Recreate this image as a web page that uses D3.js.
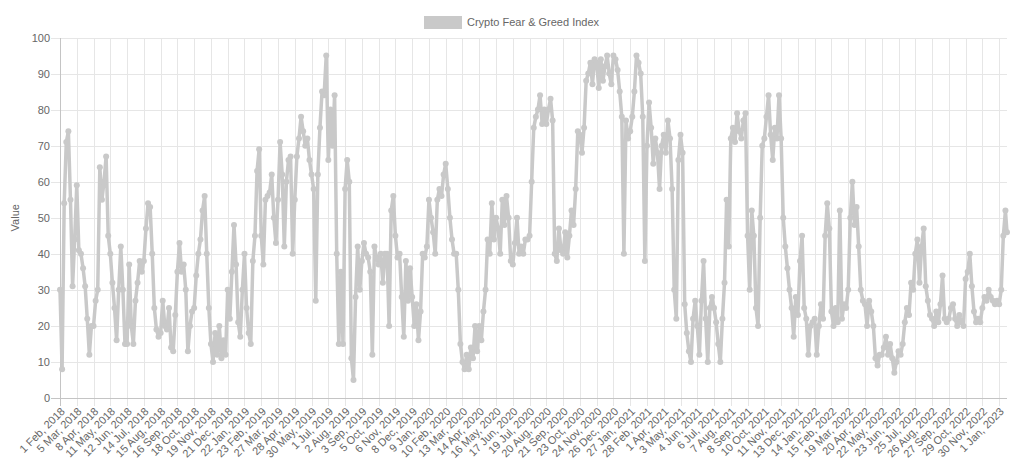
<!DOCTYPE html>
<html>
<head>
<meta charset="utf-8">
<script src="https://cdn.jsdelivr.net/npm/d3@7"></script>
<style>
  html, body { margin: 0; padding: 0; background: #fff; }
  svg { display: block; font-family: "Liberation Sans", Arial, Helvetica, sans-serif; }
</style>
</head>
<body>
<svg id="chart" width="1024" height="468"></svg>
<script>
// ---- data ----
const seriesName = "Crypto Fear & Greed Index";
const yAxisTitle = "Value";
const yTicks = [0, 10, 20, 30, 40, 50, 60, 70, 80, 90, 100];
// category labels shown on the x axis (every 32nd daily category)
const tickLabels = [
  "1 Feb, 2018", "5 Mar, 2018", "8 Apr, 2018", "11 May, 2018", "12 Jun, 2018", "14 Jul, 2018",
  "15 Aug, 2018", "16 Sep, 2018", "18 Oct, 2018", "19 Nov, 2018", "21 Dec, 2018", "22 Jan, 2019",
  "23 Feb, 2019", "27 Mar, 2019", "28 Apr, 2019", "30 May, 2019", "1 Jul, 2019", "2 Aug, 2019",
  "3 Sep, 2019", "5 Oct, 2019", "6 Nov, 2019", "8 Dec, 2019", "9 Jan, 2020", "10 Feb, 2020",
  "13 Mar, 2020", "14 Apr, 2020", "16 May, 2020", "17 Jun, 2020", "19 Jul, 2020", "20 Aug, 2020",
  "21 Sep, 2020", "23 Oct, 2020", "24 Nov, 2020", "26 Dec, 2020", "27 Jan, 2021", "28 Feb, 2021",
  "1 Apr, 2021", "3 May, 2021", "4 Jun, 2021", "6 Jul, 2021", "7 Aug, 2021", "8 Sep, 2021",
  "10 Oct, 2021", "11 Nov, 2021", "13 Dec, 2021", "14 Jan, 2022", "15 Feb, 2022", "19 Mar, 2022",
  "20 Apr, 2022", "22 May, 2022", "23 Jun, 2022", "25 Jul, 2022", "26 Aug, 2022", "27 Sep, 2022",
  "29 Oct, 2022", "30 Nov, 2022", "1 Jan, 2023"
];
const TICK_EVERY = 32;      // categories between shown labels
const LAST_CATEGORY = 1807; // index of the last daily category
const SAMPLE_EVERY = 4;     // readings taken every 4th category
// index values, one per 4 categories (8 per labelled interval)
const fgiValues = [
  30, 8, 54, 71, 74, 55, 31, 44,
  59, 41, 40, 36, 31, 22, 12, 20,
  20, 27, 30, 64, 55, 60, 67, 45,
  40, 32, 25, 16, 30, 42, 30, 15,
  15, 37, 20, 15, 27, 32, 38, 35,
  38, 47, 54, 53, 40, 25, 19, 17,
  18, 27, 20, 19, 25, 14, 13, 23,
  35, 43, 35, 37, 30, 13, 20, 24,
  25, 34, 40, 44, 52, 56, 40, 25,
  15, 10, 18, 12, 20, 11, 16, 12,
  30, 22, 35, 48, 37, 21, 17, 30,
  40, 25, 18, 15, 38, 45, 63, 69,
  45, 37, 55, 56, 57, 62, 50, 43,
  55, 71, 62, 42, 60, 66, 67, 40,
  55, 67, 72, 78, 74, 70, 72, 66,
  62, 58, 27, 62, 75, 85, 84, 95,
  66, 80, 70, 84, 40, 15, 35, 15,
  58, 66, 60, 11, 5, 28, 42, 30,
  38, 43, 40, 39, 35, 12, 42, 39,
  37, 40, 32, 40, 40, 20, 52, 56,
  45, 39, 40, 28, 17, 38, 27, 36,
  28, 20, 26, 16, 24, 40, 39, 42,
  55, 50, 46, 40, 55, 58, 56, 62,
  65, 58, 50, 44, 40, 40, 30, 15,
  10, 8, 12, 8, 14, 11, 20, 13,
  20, 16, 24, 30, 44, 40, 54, 44,
  50, 47, 40, 55, 48, 56, 50, 38,
  37, 43, 50, 40, 42, 40, 44, 44,
  45, 60, 75, 78, 80, 84, 76, 80,
  76, 80, 83, 77, 40, 38, 47, 41,
  40, 46, 39, 45, 52, 48, 58, 74,
  73, 68, 75, 88, 90, 93, 87, 94,
  93, 86, 94, 88, 92, 95, 90, 87,
  95, 94, 91, 85, 78, 40, 77, 72,
  74, 78, 85, 95, 93, 90, 78, 38,
  70, 82, 75, 65, 72, 68, 58, 70,
  73, 68, 77, 72, 58, 30, 22, 66,
  73, 68, 26, 18, 13, 10, 22, 27,
  20, 12, 27, 38, 22, 10, 25, 28,
  25, 21, 15, 10, 22, 32, 55, 42,
  72, 75, 71, 79, 74, 72, 77, 79,
  45, 30, 52, 45, 25, 20, 50, 70,
  72, 78, 84, 73, 66, 75, 72, 84,
  72, 50, 42, 36, 30, 25, 17, 28,
  23, 38, 45, 25, 22, 12, 20, 21,
  22, 12, 20, 26, 22, 45, 54, 47,
  24, 20, 25, 21, 52, 22, 26, 25,
  30, 50, 60, 48, 53, 42, 30, 27,
  26, 20, 27, 24, 20, 11, 9, 12,
  12, 14, 17, 12, 15, 11, 7, 10,
  13, 12, 15, 21, 25, 23, 32, 30,
  40, 44, 32, 42, 47, 31, 27, 23,
  22, 20, 24, 21, 26, 34, 22, 21,
  22, 25, 26, 22, 20, 23, 21, 20,
  33, 35, 40, 31, 24, 21, 22, 21,
  25, 28, 27, 30, 28, 27, 26, 27,
  26, 30, 45, 52, 46
];

// ---- layout ----
const svg = d3.select("#chart");
const margin = { left: 60, right: 17, top: 37.5, bottom: 70 };
const W = 1024, H = 468;
const plotL = margin.left, plotR = W - margin.right, plotT = margin.top, plotB = H - margin.bottom;
const GRID = "#e6e6e6", AXIS = "#c4c4c4", TEXT = "#666", SERIES = "#c9c9c9";

const x = d3.scaleLinear().domain([0, LAST_CATEGORY]).range([plotL, plotR]);
const y = d3.scaleLinear().domain([0, 100]).range([plotB, plotT]);

const points = fgiValues.map((v, i) => ({ c: Math.min(i * SAMPLE_EVERY, LAST_CATEGORY), v }));
const tickCats = tickLabels.map((lab, k) => k * TICK_EVERY);

// y grid + axis
const yAxis = d3.axisLeft(y).tickValues(yTicks).tickSize(-(plotR - plotL)).tickPadding(12);
const gy = svg.append("g").attr("transform", `translate(${plotL},0)`).call(yAxis);
gy.select(".domain").remove();
gy.selectAll(".tick line").attr("stroke", GRID).attr("x1", -9).attr("shape-rendering", "crispEdges");
gy.selectAll(".tick text").attr("fill", TEXT).style("font-size", "11px")
  .style("font-family", '"Liberation Sans", Arial, sans-serif').attr("dx", 2);

// x grid + axis
const xAxis = d3.axisBottom(x).tickValues(tickCats)
  .tickFormat((d, i) => tickLabels[i]).tickSize(-(plotB - plotT)).tickPadding(0);
const gx = svg.append("g").attr("transform", `translate(0,${plotB})`).call(xAxis);
gx.select(".domain").remove();
gx.selectAll(".tick line").attr("stroke", GRID).attr("y1", 8).attr("shape-rendering", "crispEdges");
gx.selectAll(".tick text")
  .attr("fill", TEXT).style("font-size", "11px")
  .style("font-family", '"Liberation Sans", Arial, sans-serif')
  .attr("text-anchor", "end").attr("dominant-baseline", "middle")
  .attr("y", 0).attr("dy", 0)
  .attr("transform", "translate(3,12) rotate(-45)");

// axis lines
svg.append("line").attr("x1", plotL).attr("x2", plotL).attr("y1", plotT).attr("y2", plotB + 8)
  .attr("stroke", AXIS).attr("shape-rendering", "crispEdges");
svg.append("line").attr("x1", plotL - 9).attr("x2", plotR).attr("y1", plotB).attr("y2", plotB)
  .attr("stroke", AXIS).attr("shape-rendering", "crispEdges");

// y title
svg.append("text").attr("transform", `translate(19,${(plotT + plotB) / 2}) rotate(-90)`)
  .attr("text-anchor", "middle").attr("fill", TEXT).style("font-size", "11px").text(yAxisTitle);

// series line + points
const line = d3.line().x(d => x(d.c)).y(d => y(d.v));
svg.append("path").datum(points).attr("d", line)
  .attr("fill", "none").attr("stroke", SERIES).attr("stroke-width", 3.5).attr("stroke-linejoin", "round");
svg.append("g").selectAll("circle").data(points).join("circle")
  .attr("cx", d => x(d.c)).attr("cy", d => y(d.v)).attr("r", 3)
  .attr("fill", SERIES);

// legend
const lg = svg.append("g");
lg.append("rect").attr("x", 424).attr("y", 16).attr("width", 38).attr("height", 13).attr("fill", SERIES);
lg.append("text").attr("x", 467).attr("y", 23).attr("dominant-baseline", "middle")
  .attr("fill", TEXT).style("font-size", "11px").text(seriesName);
</script>
</body>
</html>
